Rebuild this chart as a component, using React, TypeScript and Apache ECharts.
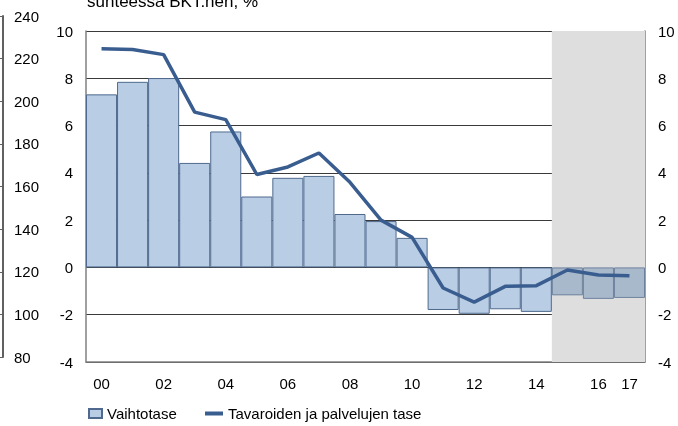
import React, { useEffect, useRef } from "react";
import * as echarts from "echarts";

const years = ["2000","2001","2002","2003","2004","2005","2006","2007","2008","2009","2010","2011","2012","2013","2014","2015","2016","2017"];
const currentAccount = [7.32, 7.85, 8.01, 4.42, 5.75, 3.0, 3.79, 3.87, 2.26, 1.96, 1.25, -1.8, -1.96, -1.77, -1.88, -1.18, -1.33, -1.29];
const goodsServices = [9.25, 9.22, 9.0, 6.57, 6.25, 3.93, 4.25, 4.84, 3.6, 2.0, 1.27, -0.87, -1.47, -0.8, -0.77, -0.11, -0.32, -0.35];
const forecastStart = 15;
const seriesNames = ["Vaihtotase", "Tavaroiden ja palvelujen tase"];
const titleText = "suhteessa BKT:hen, %";

const FONT = "Liberation Sans, Arial, sans-serif";

export default function App() {
  const ref = useRef<HTMLDivElement>(null);
  useEffect(() => {
    if (!ref.current) return;
    const chart = echarts.init(ref.current, undefined, { renderer: "svg" });
    const barData = currentAccount.map((v, i) =>
      i >= forecastStart
        ? { value: v, itemStyle: { color: "#a9b9cc", borderColor: "#6d819d" } }
        : v
    );
    chart.setOption({
      animation: false,
      textStyle: { fontFamily: FONT },
      grid: [
        { left: 86, right: 33, top: 31, bottom: 64 },
        { left: 3, width: 1, top: 16, height: 341 },
      ],
      graphic: [
        {
          type: "text",
          left: 87,
          top: -7,
          style: { text: titleText, font: "17px " + FONT, fill: "#000" },
        },
      ],
      legend: [
        {
          data: [seriesNames[0]],
          left: 88,
          top: 406,
          padding: 0,
          icon: "rect",
          itemWidth: 13,
          itemHeight: 9,
          textStyle: { fontSize: 15, color: "#000", fontFamily: FONT },
        },
        {
          data: [seriesNames[1]],
          left: 205,
          top: 406,
          padding: 0,
          icon: "rect",
          itemWidth: 18,
          itemHeight: 4,
          textStyle: { fontSize: 15, color: "#000", fontFamily: FONT },
        },
      ],
      xAxis: [
        {
          type: "category",
          data: years,
          gridIndex: 0,
          axisLine: { onZero: false, lineStyle: { color: "#808080", width: 1.5 } },
          axisTick: { show: false },
          axisLabel: {
            fontSize: 15,
            color: "#000",
            margin: 14,
            interval: (i: number) => i % 2 === 0 || i === years.length - 1,
            formatter: (v: string) => v.slice(2),
          },
        },
        { type: "value", gridIndex: 0, min: 0, max: years.length, show: false },
        { type: "value", gridIndex: 1, show: false },
      ],
      yAxis: [
        {
          type: "value",
          gridIndex: 0,
          min: -4,
          max: 10,
          interval: 2,
          axisLine: { show: true, lineStyle: { color: "#808080", width: 1.5 } },
          axisTick: { show: false },
          axisLabel: { fontSize: 15, color: "#000", margin: 13 },
          splitLine: { lineStyle: { color: "#3a3a3a", width: 1 } },
        },
        {
          type: "value",
          gridIndex: 0,
          position: "right",
          min: -4,
          max: 10,
          interval: 2,
          axisLine: { show: true, lineStyle: { color: "#808080", width: 1.5 } },
          axisTick: { show: false },
          axisLabel: { fontSize: 15, color: "#000", margin: 13 },
          splitLine: { show: false },
        },
        {
          type: "value",
          gridIndex: 1,
          min: 80,
          max: 240,
          interval: 20,
          position: "left",
          axisLine: { show: true, lineStyle: { color: "#606060", width: 2 } },
          axisTick: { show: true, length: 3, lineStyle: { color: "#606060" } },
          axisLabel: { inside: true, fontSize: 15, color: "#000", margin: 11 },
          splitLine: { show: false },
        },
      ],
      series: [
        {
          name: "forecast",
          type: "line",
          xAxisIndex: 1,
          yAxisIndex: 0,
          z: -1,
          silent: true,
          data: [],
          markArea: {
            silent: true,
            itemStyle: { color: "#dedede" },
            data: [[{ xAxis: forecastStart, yAxis: -4 }, { xAxis: years.length, yAxis: 10 }]],
          },
        },
        {
          name: seriesNames[0],
          type: "bar",
          xAxisIndex: 0,
          yAxisIndex: 0,
          barCategoryGap: "0%",
          data: barData,
          itemStyle: { color: "#b9cde5", borderColor: "#4f6a8e", borderWidth: 1 },
        },
        {
          name: seriesNames[1],
          type: "line",
          xAxisIndex: 0,
          yAxisIndex: 1,
          data: goodsServices,
          symbol: "none",
          z: 5,
          lineStyle: { color: "#3a5d90", width: 3.5 },
          itemStyle: { color: "#3a5d90" },
        },
      ],
    });
    return () => chart.dispose();
  }, []);
  return <div ref={ref} style={{ width: 678, height: 426, position: "fixed", left: 0, top: 0 }} />;
}
